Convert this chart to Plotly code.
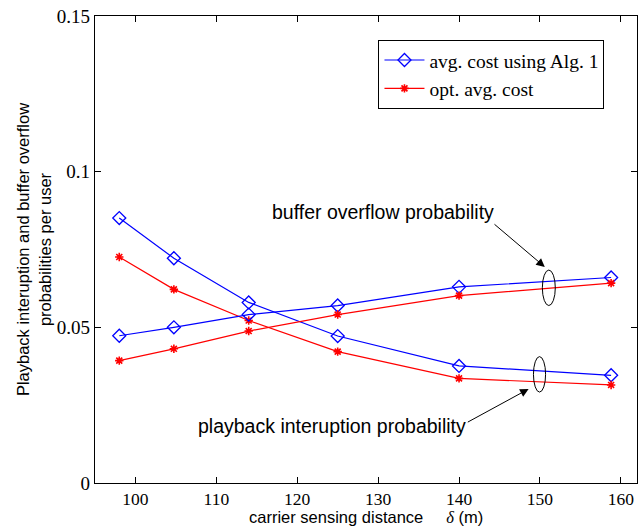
import plotly.graph_objects as go

# data
delta = [98, 104.75, 114, 125, 140, 158.8]
alg1_interrupt = [0.0851, 0.0722, 0.0580, 0.0472, 0.0376, 0.0346]
alg1_overflow = [0.0473, 0.0500, 0.0541, 0.0570, 0.0630, 0.0660]
opt_interrupt = [0.0726, 0.0622, 0.0522, 0.0422, 0.0336, 0.0315]
opt_overflow = [0.0393, 0.0431, 0.0488, 0.0541, 0.0602, 0.0642]

legend_names = ["avg. cost using Alg. 1", "opt. avg. cost"]
x_ticks = [100, 110, 120, 130, 140, 150, 160]
y_ticks = [0, 0.05, 0.1, 0.15]
y_tick_text = ["0", "0.05", "0.1", "0.15"]

BLUE = "#0000ff"
RED = "#ff0000"

fig = go.Figure()

blue_marker = dict(symbol="diamond-open", size=10, color=BLUE, line=dict(width=1.3, color=BLUE))
red_marker = dict(symbol="asterisk-open", size=7, color=RED, line=dict(width=1.6, color=RED))

fig.add_trace(go.Scatter(x=delta, y=alg1_interrupt, mode="lines+markers", name=legend_names[0],
                         legendgroup="a", line=dict(color=BLUE, width=1.2), marker=blue_marker))
fig.add_trace(go.Scatter(x=delta, y=opt_interrupt, mode="lines+markers", name=legend_names[1],
                         legendgroup="b", line=dict(color=RED, width=1.2), marker=red_marker))
fig.add_trace(go.Scatter(x=delta, y=alg1_overflow, mode="lines+markers", name=legend_names[0],
                         legendgroup="a", showlegend=False, line=dict(color=BLUE, width=1.2), marker=blue_marker))
fig.add_trace(go.Scatter(x=delta, y=opt_overflow, mode="lines+markers", name=legend_names[1],
                         legendgroup="b", showlegend=False, line=dict(color=RED, width=1.2), marker=red_marker))

serif = "Liberation Serif, Times New Roman, serif"
sans = "Liberation Sans, Arial, sans-serif"

# ellipses
fig.add_shape(type="circle", xref="x", yref="y", x0=150.3, x1=151.9, y0=0.0570, y1=0.0684,
              line=dict(color="black", width=1))
fig.add_shape(type="circle", xref="x", yref="y", x0=149.2, x1=150.7, y0=0.0292, y1=0.0406,
              line=dict(color="black", width=1))

# texts
fig.add_annotation(x=130.6, y=0.0871, xref="x", yref="y", text="buffer overflow probability",
                   showarrow=False, font=dict(family=sans, size=19.5, color="black"))
fig.add_annotation(x=124.3, y=0.0184, xref="x", yref="y", text="playback interuption probability",
                   showarrow=False, font=dict(family=sans, size=19.5, color="black"))
# arrows
fig.add_annotation(x=150.6, y=0.0694, ax=144.2, ay=0.0835, xref="x", yref="y", axref="x", ayref="y",
                   text="", showarrow=True, arrowhead=2, arrowsize=1.7, arrowwidth=1, arrowcolor="black", standoff=0)
fig.add_annotation(x=148.6, y=0.0302, ax=140.9, ay=0.0193, xref="x", yref="y", axref="x", ayref="y",
                   text="", showarrow=True, arrowhead=2, arrowsize=1.7, arrowwidth=1, arrowcolor="black", standoff=0)

# x-axis title as a paper annotation at the very bottom
xtitle = ("carrier sensing distance&nbsp;&nbsp;&nbsp;&nbsp;&nbsp;"
          "<i><span style=\"font-family:'Liberation Serif'\">δ</span></i> (m)")
fig.add_annotation(x=0.5, y=0, xref="paper", yref="paper", yshift=-45, yanchor="bottom",
                   borderpad=0, text=xtitle, showarrow=False,
                   font=dict(family=sans, size=16.5, color="black"))

fig.update_layout(
    width=639, height=527,
    margin=dict(l=95, r=2, t=16, b=44),
    paper_bgcolor="white", plot_bgcolor="white",
    showlegend=True,
    legend=dict(x=0.523, y=0.949, xanchor="left", yanchor="top",
                bgcolor="white", bordercolor="black", borderwidth=1,
                font=dict(family=serif, size=19.5, color="black"),
                tracegroupgap=0, itemwidth=40),
    xaxis=dict(range=[95, 162], tickvals=x_ticks, ticks="inside", ticklen=6, tickcolor="black",
               showline=True, linecolor="black", linewidth=1.2, mirror="ticks", showgrid=False, zeroline=False,
               tickfont=dict(family=serif, size=17.5, color="black")),
    yaxis=dict(range=[0, 0.15], tickvals=y_ticks, ticktext=y_tick_text, ticks="inside", ticklen=6, tickcolor="black",
               showline=True, linecolor="black", linewidth=1.2, mirror="ticks", showgrid=False, zeroline=False,
               tickfont=dict(family=serif, size=19, color="black"),
               title=dict(text="Playback interuption and buffer overflow<br>probabilities per user",
                          font=dict(family=sans, size=16.5, color="black"), standoff=1)),
)

fig.write_html("out.html")
